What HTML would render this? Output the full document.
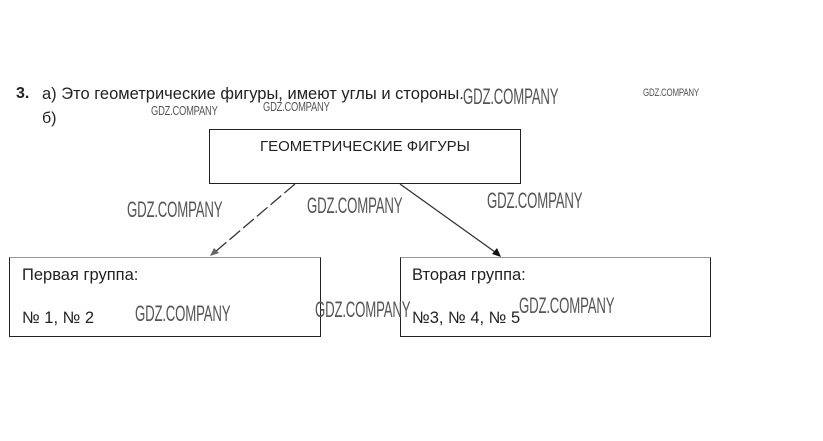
<!DOCTYPE html>
<html><head><meta charset="utf-8"><style>
body{margin:0;width:823px;height:441px;background:#fff;position:relative;overflow:hidden;font-family:"Liberation Sans","DejaVu Sans",sans-serif;color:#222}
.t{position:absolute;white-space:nowrap;font-size:15px}
.w{position:absolute;white-space:nowrap;font-family:"Liberation Sans Narrow","Liberation Sans",sans-serif;color:#555;transform-origin:0 0;transform:scaleX(0.6);letter-spacing:-0.3px}
.s{transform:scaleX(0.72)}
.box{position:absolute;border:1px solid #222;box-sizing:border-box}
</style></head><body>
<div class="t" style="left:16px;top:85px;font-weight:bold;font-size:16px">3.</div>
<div class="t" style="left:42px;top:85px;font-size:16.5px">а) Это геометрические фигуры, имеют углы и стороны.</div>
<div class="t" style="left:42px;top:110px;font-size:16px">б)</div>
<div class="box" style="left:209px;top:129px;width:312px;height:55px"></div>
<div class="t" style="left:260px;top:138px;font-size:15px">ГЕОМЕТРИЧЕСКИЕ ФИГУРЫ</div>
<div class="box" style="left:9px;top:257px;width:312px;height:80px;border-top-color:#999"></div>
<div class="box" style="left:400px;top:257px;width:311px;height:80px;border-top-color:#999"></div>
<div class="t" style="left:22px;top:266px;font-size:16.5px">Первая группа:</div>
<div class="t" style="left:22px;top:309px;font-size:16.5px">№ 1, № 2</div>
<div class="t" style="left:412px;top:266px;font-size:16.5px">Вторая группа:</div>
<div class="t" style="left:412px;top:309px;font-size:16.5px">№3, № 4, № 5</div>
<svg style="position:absolute;left:0;top:0" width="823" height="441">
<line x1="295" y1="184" x2="215" y2="252" stroke="#333" stroke-width="1.3" stroke-dasharray="14,4"/>
<polygon points="210,256 214,248 219,253" fill="#666"/>
<line x1="400" y1="184" x2="495" y2="252" stroke="#333" stroke-width="1.3"/>
<polygon points="501,257 492,254 497,248" fill="#111"/>
</svg>
<div class="w" style="left:463px;top:84px;font-size:22px">GDZ.COMPANY</div>
<div class="w s" style="left:643px;top:87px;font-size:11px">GDZ.COMPANY</div>
<div class="w s" style="left:151px;top:103px;font-size:13px">GDZ.COMPANY</div>
<div class="w s" style="left:263px;top:99px;font-size:13px">GDZ.COMPANY</div>
<div class="w" style="left:127px;top:197px;font-size:22px">GDZ.COMPANY</div>
<div class="w" style="left:307px;top:193px;font-size:22px">GDZ.COMPANY</div>
<div class="w" style="left:487px;top:188px;font-size:22px">GDZ.COMPANY</div>
<div class="w" style="left:135px;top:301px;font-size:22px">GDZ.COMPANY</div>
<div class="w" style="left:315px;top:297px;font-size:22px">GDZ.COMPANY</div>
<div class="w" style="left:519px;top:293px;font-size:22px">GDZ.COMPANY</div>
</body></html>
